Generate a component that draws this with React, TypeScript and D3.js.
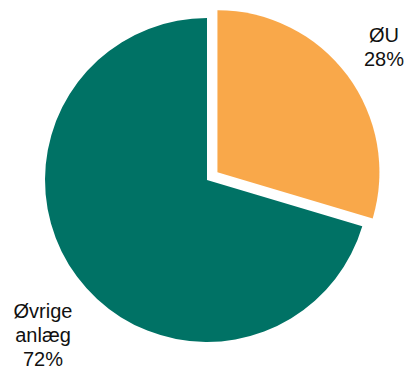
import React from "react";
import * as d3 from "d3";

const categories = ["ØU", "Øvrige anlæg"];
const values = [29.6, 70.4];
const colors = ["#F9A84A", "#007265"];
const labelLines = [["ØU", "28%"], ["Øvrige", "anlæg", "72%"]];

export default function App() {
  const width = 409, height = 370;
  const cx = 207, cy = 180, r = 162;
  const pie = d3.pie<number>().sort(null).value((d) => d)(values);
  const arc = d3.arc<d3.PieArcDatum<number>>().innerRadius(0).outerRadius(r);
  const explode = [13, 0];
  const labelPos = [
    { x: 384, y: 42 },
    { x: 43, y: 318 },
  ];
  return (
    <svg width={width} height={height} style={{ position: "absolute", left: 0, top: 0 }}>
      <rect width={width} height={height} fill="#fff" />
      <g transform={`translate(${cx},${cy})`}>
        {pie.map((p, i) => {
          const mid = (p.startAngle + p.endAngle) / 2;
          const dx = Math.sin(mid) * explode[i];
          const dy = -Math.cos(mid) * explode[i];
          return (
            <path key={categories[i]} d={arc(p) || ""} fill={colors[i]} transform={`translate(${dx},${dy})`} />
          );
        })}
      </g>
      {labelLines.map((lines, i) => (
        <text key={i} textAnchor="middle" fontFamily="Liberation Sans, Arial, sans-serif" fontSize={20} fill="#111">
          {lines.map((l, j) => (
            <tspan key={j} x={labelPos[i].x} y={labelPos[i].y + j * 24}>{l}</tspan>
          ))}
        </text>
      ))}
    </svg>
  );
}
